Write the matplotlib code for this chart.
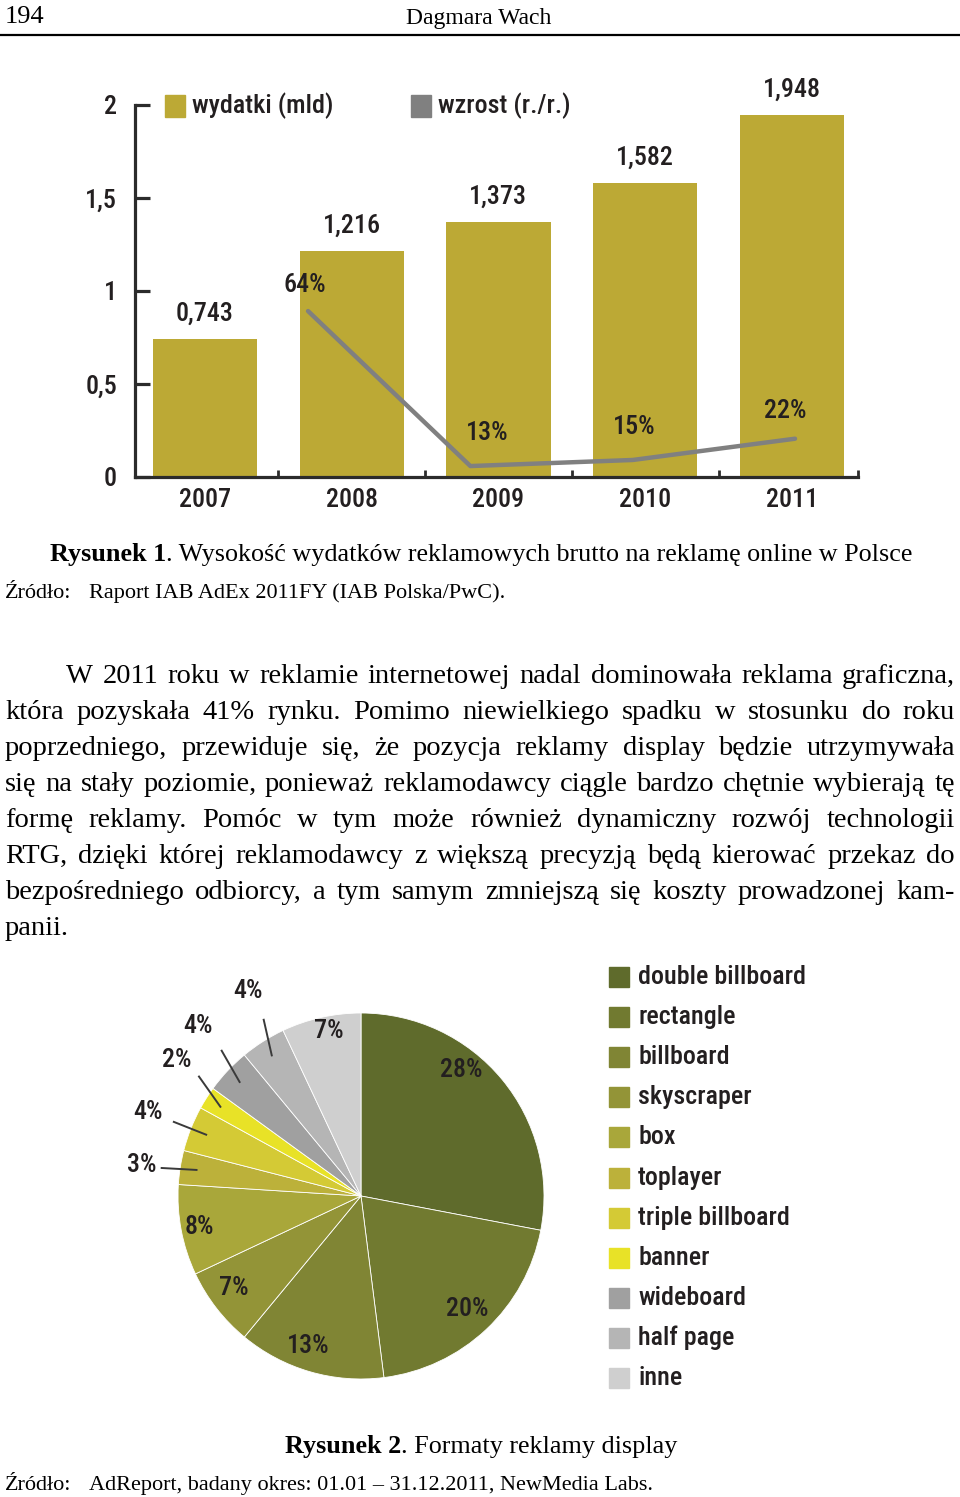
import numpy as np
import matplotlib.pyplot as plt
from matplotlib.patches import Rectangle
from matplotlib import font_manager as fm

W, H = 960, 1497

# ---- dane: wykres 1 ----
lata = ['2007', '2008', '2009', '2010', '2011']
wydatki = [0.743, 1.216, 1.373, 1.582, 1.948]
wydatki_lbl = ['0,743', '1,216', '1,373', '1,582', '1,948']
wzrost_lata = [1, 2, 3, 4]
wzrost = [64, 13, 15, 22]
y_ticks = [0, 0.5, 1, 1.5, 2]
y_tick_lbl = ['0', '0,5', '1', '1,5', '2']
seria = ['wydatki (mld)', 'wzrost (r./r.)']

# ---- dane: wykres 2 ----
formaty = ['double billboard', 'rectangle', 'billboard', 'skyscraper', 'box', 'toplayer',
           'triple billboard', 'banner', 'wideboard', 'half page', 'inne']
udzialy = [28, 20, 13, 7, 8, 3, 4, 2, 4, 4, 7]
kolory = ['#5f6b2c', '#717a30', '#808534', '#939437', '#a9a73a', '#bcb13a',
          '#d4ca35', '#e8e227', '#a0a0a0', '#b5b5b5', '#cfcfcf']

body = [
    "W 2011 roku w reklamie internetowej nadal dominowała reklama graficzna,",
    "która pozyskała 41% rynku. Pomimo niewielkiego spadku w stosunku do roku",
    "poprzedniego, przewiduje się, że pozycja reklamy display będzie utrzymywała",
    "się na stały poziomie, ponieważ reklamodawcy ciągle bardzo chętnie wybierają tę",
    "formę reklamy. Pomóc w tym może również dynamiczny rozwój technologii",
    "RTG, dzięki której reklamodawcy z większą precyzją będą kierować przekaz do",
    "bezpośredniego odbiorcy, a tym samym zmniejszą się koszty prowadzonej kam-",
    "panii.",
]

serif = ['Liberation Serif', 'DejaVu Serif']
ink = '#231f20'
bar_color = '#bca935'
line_color = '#808080'

# waska czcionka do wykresow - bierzemy co jest zainstalowane
fonts = {(f.name, f.stretch) for f in fm.fontManager.ttflist}
names = {n for n, s in fonts}
cond_family, cond_stretch = 'Roboto', 'normal'
for n in ['Roboto Condensed', 'Liberation Sans Narrow', 'Open Sans Condensed',
          'Noto Sans Condensed', 'DejaVu Sans Condensed']:
    if n in names:
        cond_family = n
        break
else:
    for n, s in sorted(fonts):
        if str(s) in ('condensed', 'semi-condensed', 'extra-condensed') and 'Mono' not in n:
            cond_family, cond_stretch = n, s
            break


def cf(size):
    return fm.FontProperties(family=[cond_family, 'DejaVu Sans'], stretch=cond_stretch,
                             weight='medium', size=size)


def fx(x):
    return x / W


def fy(y):
    return 1 - y / H


fig = plt.figure(figsize=(W / 100, H / 100), dpi=100)
renderer = fig.canvas.get_renderer()


def text_w(t):
    return t.get_window_extent(renderer).width


# rozmiar waskiej czcionki: kompromis miedzy szerokoscia a wysokoscia oryginalu
probe = fig.text(0, 0, 'wydatki (mld)', fontproperties=cf(20))
size_w = 20 * 130 / text_w(probe)
probe.remove()
cs = float(np.clip(0.7 * size_w + 0.3 * 22, 14, 22))

# naglowek strony
fig.text(fx(5), fy(23), '194', fontsize=19, family=serif, va='baseline')
fig.text(fx(479), fy(24), 'Dagmara Wach', fontsize=17, family=serif, va='baseline', ha='center')
fig.add_artist(plt.Line2D([0, 1], [fy(34.5), fy(34.5)], color='black', lw=1.6))

# ---- wykres slupkowy ----
ax = fig.add_axes([fx(135), fy(477), (858 - 135) / W, (477 - 105) / H])
x = np.arange(len(lata))
ax.bar(x, wydatki, width=0.71, color=bar_color, zorder=1)
ax.set_xlim(-0.476, 4.45)
ax.set_ylim(0, 2)
for s in ['top', 'right']:
    ax.spines[s].set_visible(False)
for s in ['left', 'bottom']:
    ax.spines[s].set_linewidth(2.3)
    ax.spines[s].set_color('#2b2b2b')
ax.set_yticks(y_ticks, y_tick_lbl)
ax.set_xticks(x, lata)
ax.set_xticks([0.5, 1.5, 2.5, 3.5, 4.45], minor=True)
ax.tick_params(axis='y', direction='in', length=11, width=2.3, color='#2b2b2b', pad=13,
               labelcolor=ink)
ax.tick_params(axis='x', which='major', length=0, pad=8, labelcolor=ink)
ax.tick_params(axis='x', which='minor', direction='in', length=5, width=2, color='#2b2b2b')
for lab in ax.get_xticklabels() + ax.get_yticklabels():
    lab.set_fontproperties(cf(cs))
for xi, v, lbl in zip(x, wydatki, wydatki_lbl):
    ax.annotate(lbl, (xi, v), xytext=(0, 18), textcoords='offset points', ha='center',
                va='center', fontproperties=cf(cs), color=ink, annotation_clip=False)

# linia wzrostu ma wlasna skale
ax2 = fig.add_axes(ax.get_position(), frameon=False)
ax2.plot(wzrost_lata, wzrost, color=line_color, lw=3.2, solid_capstyle='round')
ax2.set_xlim(-0.066, 4.388)
ax2.set_ylim(9.4, 131.8)
ax2.set_xticks([])
ax2.set_yticks([])
nudge = [(-2, 19), (12, 24), (1, 24), (-7, 20)]
for xi, v, (dx, dy) in zip(wzrost_lata, wzrost, nudge):
    ax2.annotate(f'{v}%', (xi, v), xytext=(dx, dy), textcoords='offset points', ha='center',
                 va='center', fontproperties=cf(cs), color=ink)

# legenda wykresu 1
for lx, col, lab in zip([165, 411], [bar_color, line_color], seria):
    fig.add_artist(Rectangle((fx(lx), fy(117)), 20 / W, 22 / H, color=col))
    fig.text(fx(lx + 27), fy(106), lab, va='center', fontproperties=cf(cs), color=ink)

# ---- podpis 1 ----
t = fig.text(fx(50), fy(561), 'Rysunek 1', fontsize=18.8, family=serif, weight='bold',
             va='baseline')
fig.text(fx(50 + text_w(t)), fy(561),
         '. Wysokość wydatków reklamowych brutto na reklamę online w Polsce',
         fontsize=18.8, family=serif, va='baseline')
fig.text(fx(5), fy(598), 'Źródło:', fontsize=16, family=serif, va='baseline')
fig.text(fx(89), fy(598), 'Raport IAB AdEx 2011FY (IAB Polska/PwC).', fontsize=16,
         family=serif, va='baseline')


# ---- tekst wyjustowany ----
def justify(line, y, x0, x1, size, last=False):
    words = line.split()
    texts = [fig.text(0, fy(y), w, fontsize=size, family=serif, va='baseline') for w in words]
    widths = [text_w(tt) for tt in texts]
    if last or len(words) == 1:
        gap = size * 0.3
    else:
        gap = (x1 - x0 - sum(widths)) / (len(words) - 1)
    pos = x0
    for tt, wd in zip(texts, widths):
        tt.set_x(fx(pos))
        pos += wd + gap


for i, line in enumerate(body):
    x0 = 66 if i == 0 else 5
    justify(line, 683 + 36 * i, x0, 955, 20.5, last=(i == len(body) - 1))

# ---- wykres kolowy ----
cx, cy, r = 361, 1196, 183
side = 2 * r * 1.25
axp = fig.add_axes([fx(cx - side / 2), fy(cy + side / 2), side / W, side / H])
wedges, _ = axp.pie(udzialy, colors=kolory, startangle=90, counterclock=False,
                    wedgeprops=dict(edgecolor='white', linewidth=0.6))
axp.set_xlim(-1.25, 1.25)
axp.set_ylim(-1.25, 1.25)

lab_r = [0.88, 0.85, 0.87, 0.86, 0.90, 1.21, 1.25, 1.25, 1.29, 1.28, 0.92]
lab_da = [12, 0, -3, -2, 0, 1, 0, -4, -3, -3.5, -1.6]
for wdg, v, rr, da in zip(wedges, udzialy, lab_r, lab_da):
    mid = np.deg2rad((wdg.theta1 + wdg.theta2) / 2)
    ang = mid + np.deg2rad(da)
    axp.text(rr * np.cos(ang), rr * np.sin(ang), f'{v}%', ha='center', va='center',
             fontproperties=cf(cs), color=ink)
    if rr > 1:
        axp.plot([1.1 * np.cos(ang), 0.91 * np.cos(mid)],
                 [1.1 * np.sin(ang), 0.91 * np.sin(mid)], color='#3a3a3a', lw=1.4)

# legenda wykresu 2 (wiersze co 40 px)
for i, (lab, col) in enumerate(zip(formaty, kolory)):
    ly = 977 + 40.1 * i
    fig.add_artist(Rectangle((fx(609), fy(ly + 10)), 20 / W, 20 / H, color=col))
    fig.text(fx(638), fy(ly), lab, va='center', fontproperties=cf(cs), color=ink)

# ---- podpis 2 ----
t = fig.text(fx(285), fy(1453), 'Rysunek 2', fontsize=18.8, family=serif, weight='bold',
             va='baseline')
fig.text(fx(285 + text_w(t)), fy(1453), '. Formaty reklamy display', fontsize=18.8,
         family=serif, va='baseline')
fig.text(fx(5), fy(1490), 'Źródło:', fontsize=16, family=serif, va='baseline')
fig.text(fx(89), fy(1490), 'AdReport, badany okres: 01.01 – 31.12.2011, NewMedia Labs.',
         fontsize=16, family=serif, va='baseline')

fig.savefig('out.png', dpi=100)
